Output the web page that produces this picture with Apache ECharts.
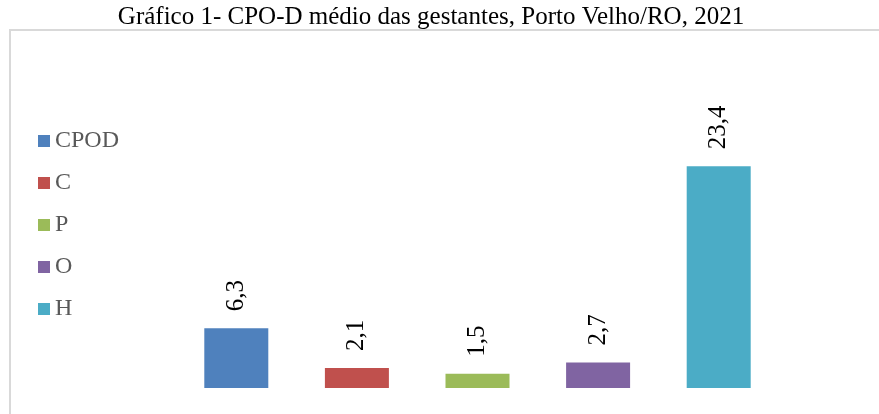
<!DOCTYPE html>
<html>
<head>
<meta charset="utf-8">
<script src="https://cdn.jsdelivr.net/npm/echarts@6/dist/echarts.min.js"></script>
<style>
  html, body { margin: 0; padding: 0; background: #fff; }
  #chart { width: 879px; height: 414px; }
</style>
</head>
<body>
<div id="chart"></div>
<script>
// categories and values (CPO-D médio)
var categories = ['CPOD', 'C', 'P', 'O', 'H']
var values = [6.3, 2.1, 1.5, 2.7, 23.4]
var colors = ['#4f81bd', '#c0504d', '#9bbb59', '#8064a2', '#4bacc6']

var serif = '"Liberation Serif", "Times New Roman", serif'

var chart = echarts.init(document.getElementById('chart'))

var series = categories.map(function (name, i) {
  var data = categories.map(function (c, j) { return j === i ? values[i] : null })
  return {
    name: name,
    type: 'bar',
    stack: 'all',
    barWidth: 64,
    itemStyle: { color: colors[i] },
    label: {
      show: true,
      position: 'top',
      rotate: 90,
      align: 'left',
      verticalAlign: 'middle',
      distance: 17,
      color: '#000',
      fontFamily: serif,
      fontSize: 25,
      formatter: function (p) {
        return p.value == null ? '' : String(p.value).replace('.', ',')
      }
    },
    data: data
  }
})

chart.setOption({
  animation: false,
  title: {
    text: 'Gráfico 1- CPO-D médio das gestantes, Porto Velho/RO, 2021',
    left: 426,
    textAlign: 'center',
    top: 0,
    textStyle: {
      fontFamily: serif,
      fontSize: 25,
      fontWeight: 'normal',
      color: '#000'
    }
  },
  legend: {
    orient: 'vertical',
    left: 33,
    top: 124,
    itemWidth: 12,
    itemHeight: 12,
    itemGap: 18,
    icon: 'rect',
    textStyle: {
      fontFamily: serif,
      fontSize: 24,
      color: '#595959'
    },
    data: categories
  },
  graphic: [
    { type: 'line', shape: { x1: 10, y1: 29, x2: 10, y2: 414 }, style: { stroke: '#d9d9d9', lineWidth: 2 } },
    { type: 'line', shape: { x1: 9, y1: 30, x2: 879, y2: 30 }, style: { stroke: '#d9d9d9', lineWidth: 2 } }
  ],
  grid: {
    left: 176,
    right: 100,
    top: 151,
    bottom: 26
  },
  xAxis: {
    type: 'category',
    data: categories,
    show: false
  },
  yAxis: {
    type: 'value',
    min: 0,
    max: 25,
    show: false
  },
  series: series
})
</script>
</body>
</html>
